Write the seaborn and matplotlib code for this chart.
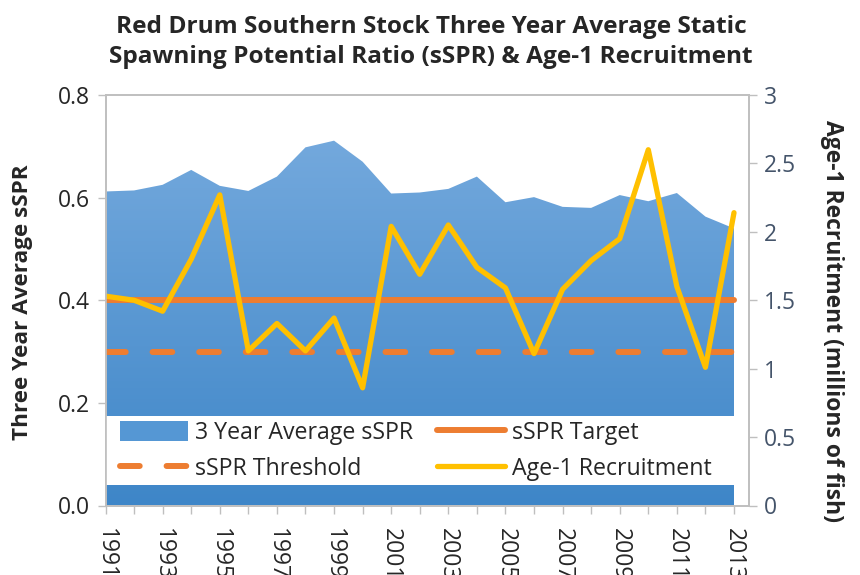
import numpy as np
import seaborn as sns
import matplotlib.pyplot as plt
from matplotlib.patches import Rectangle, Patch
from matplotlib.lines import Line2D
from matplotlib.colors import LinearSegmentedColormap

years = list(range(1991, 2014))
sspr_3yr = [0.612, 0.614, 0.625, 0.654, 0.623, 0.613, 0.641, 0.698, 0.711, 0.670,
            0.608, 0.610, 0.617, 0.641, 0.591, 0.601, 0.582, 0.580, 0.605, 0.593,
            0.609, 0.563, 0.540]
recruitment = [1.53, 1.50, 1.42, 1.80, 2.27, 1.13, 1.33, 1.13, 1.37, 0.86,
               2.04, 1.69, 2.05, 1.74, 1.59, 1.11, 1.58, 1.79, 1.95, 2.60,
               1.60, 1.01, 2.14]
sspr_target = [0.4] * len(years)
sspr_threshold = [0.3] * len(years)
xtick_labels = [str(y) if (y - years[0]) % 2 == 0 else "" for y in years]
left_ticks = [0.0, 0.2, 0.4, 0.6, 0.8]
right_ticks = [0, 0.5, 1, 1.5, 2, 2.5, 3]
right_tick_labels = ["0", "0.5", "1", "1.5", "2", "2.5", "3"]

sns.set_theme(style="white")
plt.rcParams['font.family'] = ['Open Sans', 'DejaVu Sans']

BLUE = "#5597D4"
ORANGE = "#ED7D31"
YELLOW = "#FFC000"
GREY = "#BFBFBF"
SLATE = "#44546A"
DASH = (0, (3.3, 4.5))

fig = plt.figure(figsize=(8.6, 5.75), dpi=100)
ax = fig.add_axes([105.5 / 860, (575 - 505.5) / 575, (749 - 105.5) / 860, (505.5 - 95) / 575])

# area with vertical gradient
fill = ax.fill_between(years, 0, sspr_3yr, color="none", lw=0)
cmap = LinearSegmentedColormap.from_list("blues", ["#3E86C8", "#74A9DD"])
grad = np.linspace(0, 1, 256).reshape(-1, 1)
im = ax.imshow(grad, extent=[years[0], years[-1], 0, 0.72], aspect="auto",
               cmap=cmap, origin="lower", zorder=1)
im.set_clip_path(fill.get_paths()[0], transform=ax.transData)

sns.lineplot(x=years, y=sspr_target, ax=ax, color=ORANGE, lw=4.3,
             solid_capstyle="round", zorder=3)
sns.lineplot(x=years, y=sspr_threshold, ax=ax, color=ORANGE, lw=4.3, zorder=3)
ax.lines[-1].set(linestyle=DASH, dash_capstyle="round")

# white band behind the legend
ax.add_patch(Rectangle((years[0], 0.040), years[-1] - years[0], 0.135,
                       facecolor="white", edgecolor="none", zorder=4))

ax.set_xlim(years[0], years[-1] + 0.525)
ax.set_ylim(0, 0.8)
ax.set_xticks(years)
ax.set_xticklabels(xtick_labels, rotation=-90, fontsize=16.5)
ax.set_yticks(left_ticks)
ax.set_yticklabels([f"{v:.1f}" for v in left_ticks], fontsize=16.5)
ax.tick_params(axis="both", direction="out", length=6, width=1, color=GREY,
               left=True, bottom=True, pad=5)
ax.tick_params(axis="x", pad=10)
for s in ax.spines.values():
    s.set_color(GREY)
    s.set_linewidth(1.2)
ax.set_ylabel("Three Year Average sSPR", fontsize=16.2, fontweight="bold",
              ha="center", va="center")
ax.yaxis.set_label_coords(-0.129, 0.495)

ax2 = ax.twinx()
sns.lineplot(x=years, y=recruitment, ax=ax2, color=YELLOW, lw=3.8)
ax2.set_ylim(0, 3)
ax2.set_yticks(right_ticks)
ax2.set_yticklabels(right_tick_labels, fontsize=16.5, color=SLATE)
ax2.tick_params(axis="y", direction="out", length=6, width=1, color=GREY,
                right=True, pad=5)
for s in ax2.spines.values():
    s.set_color(GREY)
    s.set_linewidth(1.2)
ax2.set_ylabel("Age-1 Recruitment (millions of fish)", fontsize=16.5,
               fontweight="bold", rotation=270, ha="center", va="center")
ax2.yaxis.set_label_coords(1.129, 0.45)

handles = [
    Patch(facecolor=BLUE, edgecolor="none"),
    Line2D([], [], color=ORANGE, lw=4.3, linestyle=DASH, dash_capstyle="round"),
    Line2D([], [], color=ORANGE, lw=4.3, solid_capstyle="round"),
    Line2D([], [], color=YELLOW, lw=3.8, solid_capstyle="round"),
]
labels = ["3 Year Average sSPR", "sSPR Threshold", "sSPR Target", "Age-1 Recruitment"]
ax2.legend(handles, labels, ncol=2, loc="upper left",
           bbox_to_anchor=(120 / 860, 1 - 421 / 575), bbox_transform=fig.transFigure,
           frameon=False, fontsize=16.7, handlelength=2.95, handleheight=0.9,
           handletextpad=0.3, columnspacing=1.0, labelspacing=0.5,
           borderpad=0, borderaxespad=0)

fig.text(431 / 860, 1 - 42 / 575,
         "Red Drum Southern Stock Three Year Average Static\n"
         "Spawning Potential Ratio (sSPR) & Age-1 Recruitment",
         ha="center", va="center", fontsize=17.6, fontweight="bold",
         linespacing=1.38)

fig.savefig("out.png", dpi=100)
